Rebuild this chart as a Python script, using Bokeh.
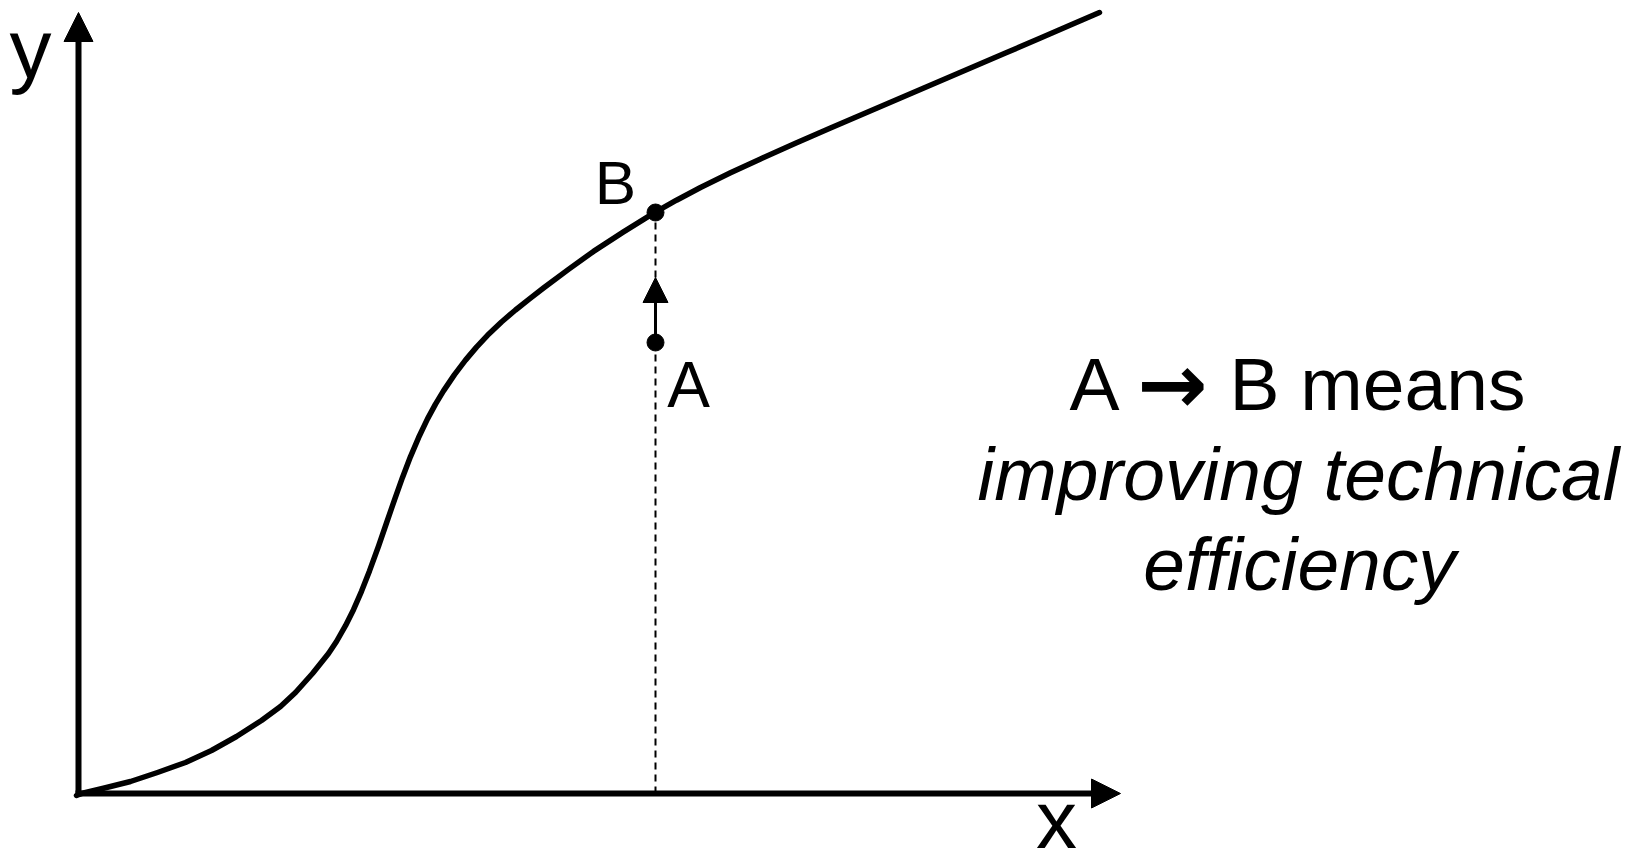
from bokeh.plotting import figure
from bokeh.models import Range1d, Arrow, NormalHead, ColumnDataSource
from bokeh.core.properties import value
from bokeh.embed import file_html
from bokeh.resources import INLINE

# Production curve (x input, y output)
curve_x = [-2, 3, 26, 52, 79, 107, 133, 158, 183, 202, 217, 234, 250, 258, 267,
           275, 283, 291, 300, 308, 316, 324, 332, 340, 349, 357, 365, 376, 387,
           398, 409, 423, 437, 451, 465, 490, 515, 545, 576, 598, 622, 652, 682,
           717, 752, 787, 822, 857, 892, 927, 962, 992, 1021]
curve_y = [-2, 0, 5.5, 12, 21, 31, 43, 57, 73, 87, 101, 120, 140, 152, 167.8,
           183.8, 202.2, 222.6, 247.3, 270.5, 293.7, 316.1, 336.9, 355.7, 374.6,
           389.4, 402.6, 418.9, 433.4, 446.4, 458.2, 471.5, 483.5, 494.7, 505.5,
           524.1, 542.1, 561.6, 580.8, 593.3, 606, 620.7, 634.6, 650.2, 665.4,
           680.5, 695.5, 710.5, 725.5, 740.5, 755.5, 768.5, 781]

# Points A (inefficient) and B (on the frontier)
point_names = ["A", "B"]
point_x = [577, 577]
point_y = [451, 581]
arrow_tip_y = 516

# Axis extents
x_axis_end = 1042
y_axis_end = 781

# Labels
label_text = ["y", "x", "B", "A"]
label_x = [-48, 978, 537, 610]
label_y = [745, -26, 611, 409]
label_size = ["84px", "82px", "62px", "64px"]

note_head = ["A", "\u2192", "B means"]
note_head_x = [1016, 1094, 1151]
note_head_align = ["center", "center", "left"]
note_head_font = ["Liberation Sans", "DejaVu Sans", "Liberation Sans"]
note_head_size = ["75px", "84px", "75px"]
note_head_style = ["normal", "bold", "normal"]
note_head_y = 410

note_lines = ["improving technical", "efficiency"]
note_x = [1220, 1221]
note_y = [320, 230]

W, H = 1636, 866
p = figure(width=W, height=H, output_backend="svg", toolbar_location=None,
           x_range=Range1d(-78, -78 + W), y_range=Range1d(793 - H, 793),
           x_axis_location=None, y_axis_location=None, min_border=0)
p.grid.visible = False
p.outline_line_color = None
p.background_fill_color = "white"
p.border_fill_color = "white"

FONT = "Liberation Sans"

# dashed vertical from x axis up to B
p.line(x=[point_x[1], point_x[1]], y=[0, point_y[1]], line_color="black",
       line_width=2, line_dash="7 5")

# axes with arrowheads
p.add_layout(Arrow(end=NormalHead(size=29, fill_color="black", line_color="black"),
                   x_start=0, y_start=-3, x_end=0, y_end=y_axis_end,
                   line_width=6, line_color="black"))
p.add_layout(Arrow(end=NormalHead(size=29, fill_color="black", line_color="black"),
                   x_start=-3, y_start=0, x_end=x_axis_end, y_end=0,
                   line_width=6, line_color="black"))

# curve
p.line(x=curve_x, y=curve_y, line_color="black", line_width=5.5, line_join="round",
       line_cap="round")

# small arrow A -> B
p.add_layout(Arrow(end=NormalHead(size=25, fill_color="black", line_color="black"),
                   x_start=point_x[0], y_start=point_y[0], x_end=point_x[0], y_end=arrow_tip_y,
                   line_width=3, line_color="black"))

# points
p.scatter(x=point_x, y=point_y, size=17, marker="circle", fill_color="black",
          line_color="black")

# labels
src = ColumnDataSource(dict(x=label_x, y=label_y, t=label_text, s=label_size))
p.text(x="x", y="y", text="t", source=src, text_font_size="s",
       text_font=value(FONT), text_align="center", text_baseline="alphabetic",
       text_color="black")

hsrc = ColumnDataSource(dict(x=note_head_x, y=[note_head_y] * 3, t=note_head,
                             a=note_head_align, f=note_head_font, s=note_head_size,
                             st=note_head_style))
p.text(x="x", y="y", text="t", source=hsrc, text_font_size="s",
       text_font="f", text_font_style="st", text_align="a",
       text_baseline="alphabetic", text_color="black")

nsrc = ColumnDataSource(dict(x=note_x, y=note_y, t=note_lines))
p.text(x="x", y="y", text="t", source=nsrc, text_font_size=value("75px"),
       text_font=value(FONT), text_font_style="italic", text_align="center",
       text_baseline="alphabetic", text_color="black")

open("out.html", "w").write(file_html(p, INLINE))
